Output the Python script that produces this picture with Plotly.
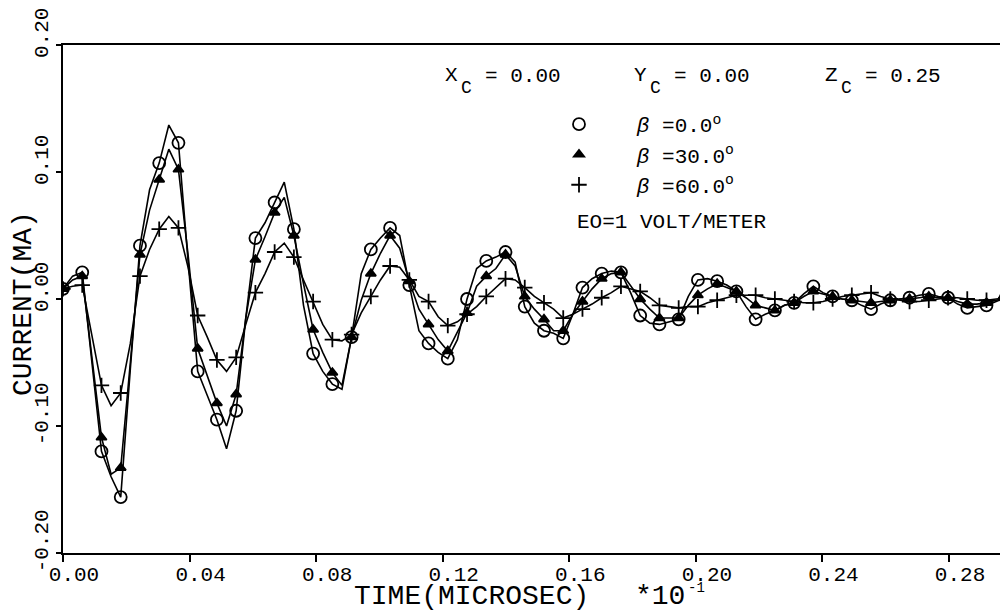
import plotly.graph_objects as go

# ---------------- data ----------------
DT = 0.00304  # time step between computed samples (x10^-1 microsec)

CUR_B0 = [0.008, 0.018, 0.021, -0.050, -0.120, -0.140, -0.156, -0.055, 0.042, 0.086,
          0.107, 0.137, 0.123, 0.030, -0.057, -0.076, -0.095, -0.118, -0.088, -0.015,
          0.048, 0.060, 0.076, 0.092, 0.055, -0.005, -0.043, -0.057, -0.067, -0.071,
          -0.030, 0.020, 0.039, 0.048, 0.056, 0.050, 0.011, -0.025, -0.035, -0.042,
          -0.047, -0.032, 0.000, 0.024, 0.030, 0.033, 0.037, 0.029, -0.006, -0.019,
          -0.025, -0.027, -0.031, -0.012, 0.009, 0.016, 0.020, 0.022, 0.021, 0.005,
          -0.013, -0.019, -0.020, -0.018, -0.016, 0.002, 0.015, 0.016, 0.014, 0.011,
          0.006, -0.006, -0.016, -0.012, -0.009, -0.005, -0.003, 0.004, 0.010, 0.005,
          0.002, 0.000, -0.001, -0.005, -0.008, -0.004, -0.001, 0.000, 0.001, 0.003,
          0.004, 0.002, 0.001, -0.004, -0.007, -0.006, -0.005, -0.002, 0.001]

CUR_B30 = [0.008, 0.015, 0.018, -0.045, -0.109, -0.138, -0.133, -0.050, 0.035, 0.070,
           0.094, 0.118, 0.102, 0.035, -0.039, -0.061, -0.082, -0.100, -0.075, -0.015,
           0.031, 0.049, 0.068, 0.080, 0.050, 0.012, -0.024, -0.042, -0.058, -0.068,
           -0.030, -0.001, 0.020, 0.036, 0.050, 0.040, 0.014, -0.008, -0.020, -0.032,
           -0.041, -0.026, -0.011, 0.010, 0.018, 0.024, 0.035, 0.026, 0.002, -0.008,
           -0.016, -0.025, -0.025, -0.012, -0.002, 0.008, 0.016, 0.020, 0.021, 0.010,
           0.000, -0.008, -0.015, -0.015, -0.015, -0.005, 0.003, 0.008, 0.012, 0.009,
           0.006, 0.001, -0.005, -0.007, -0.009, -0.005, -0.003, 0.002, 0.006, 0.004,
           0.002, 0.000, -0.001, -0.002, -0.003, -0.002, -0.001, 0.000, 0.000, 0.001,
           0.002, 0.001, 0.001, -0.002, -0.004, -0.004, -0.003, -0.001, 0.001]

CUR_B60 = [0.008, 0.010, 0.011, -0.030, -0.068, -0.084, -0.074, -0.035, 0.018, 0.039,
           0.055, 0.065, 0.056, 0.025, -0.013, -0.030, -0.048, -0.057, -0.046, -0.020,
           0.005, 0.020, 0.037, 0.044, 0.033, 0.015, -0.002, -0.020, -0.032, -0.033,
           -0.028, -0.011, 0.002, 0.015, 0.026, 0.025, 0.015, 0.002, -0.002, -0.014,
           -0.021, -0.018, -0.012, -0.006, 0.002, 0.009, 0.016, 0.015, 0.009, 0.002,
           -0.003, -0.008, -0.015, -0.012, -0.008, -0.004, 0.001, 0.005, 0.010, 0.008,
           0.006, 0.001, -0.005, -0.006, -0.007, -0.006, -0.006, -0.003, -0.001, 0.001,
           0.003, 0.003, 0.003, 0.001, 0.000, -0.001, -0.002, -0.003, -0.003, -0.002,
           0.000, 0.002, 0.003, 0.004, 0.005, 0.002, 0.000, -0.001, -0.002, -0.002,
           -0.001, 0.000, 0.001, 0.001, 0.000, -0.001, -0.001, 0.000, 0.001]

TIME = [round(i * DT, 6) for i in range(len(CUR_B0))]

SERIES_NAMES = ["<i>β</i> =0.0<sup>o</sup>", "<i>β</i> =30.0<sup>o</sup>", "<i>β</i> =60.0<sup>o</sup>"]
SYMBOLS = ["circle-open", "triangle-up", "cross-thin-open"]
SYMBOL_SIZES = [12, 9, 11]

X_TICKS = [0.00, 0.04, 0.08, 0.12, 0.16, 0.20, 0.24, 0.28]
X_TICK_TEXT = ["0.00", "0.04", "0.08", "0.12", "0.16", "0.20", "0.24", "0.28"]
Y_TICKS = [-0.20, -0.10, 0.00, 0.10, 0.20]
Y_TICK_TEXT = ["-0.20", "-0.10", "0.00", "0.10", "0.20"]

# ---------------- layout geometry ----------------
OFF = 8                     # default page body margin
W, H = 1008 - OFF, 611 - OFF
# plot area in page pixels
PL, PR, PT, PB = 63, 1006, 45, 553
FONT = "Liberation Mono"


def fx(px):
    return (px - PL) / (PR - PL)


def fy(py):
    return (PB - py) / (PB - PT)


fig = go.Figure()

for name, vals, sym, sz in zip(SERIES_NAMES, [CUR_B0, CUR_B30, CUR_B60], SYMBOLS, SYMBOL_SIZES):
    fig.add_trace(go.Scatter(x=TIME, y=vals, mode="lines",
                             line=dict(color="black", width=1.6),
                             showlegend=False, hoverinfo="skip"))
    fig.add_trace(go.Scatter(x=TIME[::2], y=vals[::2], mode="markers",
                             name="\u00a0\u00a0\u00a0" + name,
                             marker=dict(symbol=sym, size=sz, color="black",
                                         line=dict(color="black", width=1.8)),
                             legendgroup=name))

annotations = []


def add_text(text, px, py, size=21, xanchor="left", yanchor="middle", angle=0):
    annotations.append(dict(text=text, x=fx(px), y=fy(py), xref="paper", yref="paper",
                            xanchor=xanchor, yanchor=yanchor, showarrow=False, textangle=angle,
                            font=dict(family=FONT, size=size, color="black")))


for letter, value, x0 in [("X", "= 0.00", 443), ("Y", "= 0.00", 632), ("Z", "= 0.25", 823)]:
    add_text(letter, x0, 75)
    add_text("C", x0 + 16, 88, size=18)
    add_text(value, x0 + 40, 76)

add_text("EO=1 VOLT/METER", 575, 222)
add_text("TIME(MICROSEC)", 352, 596, size=28)
add_text("*10", 633, 596, size=28)
add_text("-1", 686, 588, size=14)
add_text("CURRENT(MA)", 23, 304, size=28, xanchor="center", angle=-90)

fig.update_layout(
    width=W, height=H,
    margin=dict(l=PL - OFF, r=W + OFF - PR, t=PT - OFF, b=H + OFF - PB, autoexpand=False),
    paper_bgcolor="white", plot_bgcolor="white",
    font=dict(family=FONT, size=21, color="black"),
    annotations=annotations,
    legend=dict(x=fx(559), y=fy(104), xanchor="left", yanchor="top",
                bgcolor="rgba(0,0,0,0)", font=dict(family=FONT, size=21, color="black"),
                tracegroupgap=0, itemsizing="trace"),
    xaxis=dict(range=[0, 0.298], tickvals=X_TICKS, ticktext=X_TICK_TEXT,
               showgrid=False, zeroline=False, showline=True, linecolor="black", linewidth=2,
               mirror=True, ticks="outside", ticklen=7, tickwidth=2, tickcolor="black",
               ticklabelshift=11, ticklabelstandoff=-6, ticklabeloverflow="allow",
               tickfont=dict(family=FONT, size=21, color="black")),
    yaxis=dict(range=[-0.2, 0.2], tickvals=Y_TICKS, ticktext=Y_TICK_TEXT,
               showgrid=False, zeroline=False, showline=True, linecolor="black", linewidth=2,
               ticks="outside", ticklen=5, tickwidth=2, tickcolor="black", tickangle=-90,
               ticklabelshift=-9, ticklabeloverflow="allow",
               tickfont=dict(family=FONT, size=21, color="black")),
)

fig.write_html("out.html")
